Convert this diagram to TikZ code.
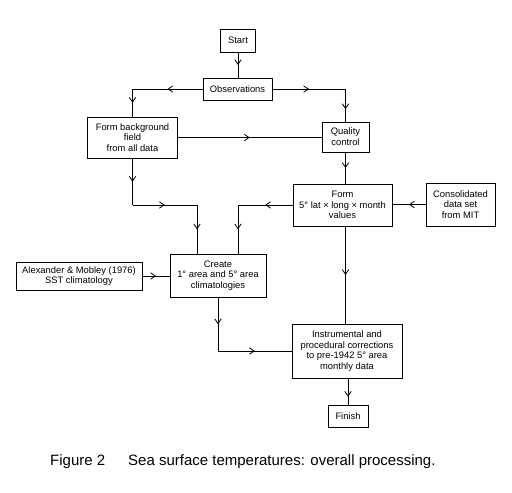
\documentclass[tikz,border=0pt]{standalone}
\usepackage{fontspec}
\setmainfont{Liberation Sans}
\usetikzlibrary{arrows.meta,calc,decorations.markings}
\tikzset{
  box/.style={draw,line width=0.8pt,inner sep=0pt,align=center,
    font=\fontsize{8}{9.2}\selectfont},
  flow/.style={line width=0.6pt,postaction={decorate},
    decoration={markings,mark=at position #1 with {\arrow{Straight Barb[length=4pt,width=5.5pt,line width=0.7pt]}}}},
  flow/.default=0.5
}

\begin{document}
\begin{tikzpicture}[x=0.03cm,y=-0.03cm]
\useasboundingbox (0,0) rectangle (512,492);

\node[box,minimum width=1.05cm,minimum height=0.69cm] (start) at (238,40.5) {Start};
\node[box,minimum width=2.07cm,minimum height=0.66cm] (obs) at (237.5,89) {Observations};
\node[box,minimum width=2.7cm,minimum height=1.23cm] (fbg) at (132.5,137.5) {Form background\\field\\from all data};
\node[box,minimum width=1.41cm,minimum height=0.9cm] (qc) at (345.5,137) {Quality\\control};
\node[box,minimum width=2.97cm,minimum height=1.26cm] (form) at (342.5,205) {Form\\5° lat × long × month\\values};
\node[box,minimum width=2.07cm,minimum height=1.29cm] (mit) at (460.5,204.5) {Consolidated\\data set\\from MIT};
\node[box,minimum width=3.78cm,minimum height=0.84cm] (alex) at (79,276) {Alexander \& Mobley (1976)\\SST climatology};
\node[box,minimum width=2.88cm,minimum height=1.29cm] (clim) at (218,275.5) {Create\\1° area and 5° area\\climatologies};
\node[box,minimum width=3.3cm,minimum height=1.62cm] (corr) at (347,351) {Instrumental and\\procedural corrections\\to pre-1942 5° area\\monthly data};
\node[box,minimum width=1.2cm,minimum height=0.66cm] (finish) at (348,416) {Finish};

\coordinate (inA) at ($(clim.north)+(-21,0)$);
\coordinate (inB) at ($(clim.north)+(20,0)$);
\coordinate (c1) at (obs.west -| fbg.north);
\coordinate (c2) at (obs.east -| qc.north);
\coordinate (c3) at (fbg.south |- form.west);
\coordinate (c4) at (c3 -| inA);
\coordinate (c5) at (form.west -| inB);
\coordinate (c6) at (clim.south |- corr.west);

\draw[flow] (start.south) -- (start.south |- obs.north);
\draw[flow] (obs.west) -- (c1);
\draw[flow] (c1) -- (fbg.north);
\draw[flow] (obs.east) -- (c2);
\draw[flow=0.62] (c2) -- (qc.north);
\draw[flow] (fbg.east) -- (fbg.east -| qc.west);
\draw[flow] (fbg.south) -- (c3);
\draw[flow] (c3) -- (c4);
\draw[flow] (c4) -- (inA);
\draw[flow] (form.west) -- (c5);
\draw[flow] (c5) -- (inB);
\draw[flow] (mit.west) -- (mit.west -| form.east);
\draw[flow] (qc.south) -- (qc.south |- form.north);
\draw[flow] (qc.south |- form.south) -- (qc.south |- corr.north);
\draw[flow] (alex.east) -- (alex.east -| clim.west);
\draw[flow] (clim.south) -- (c6);
\draw[flow] (c6) -- (corr.west);
\draw[flow=0.7] (corr.south -| finish.north) -- (finish.north);

\node[anchor=base west,inner sep=0pt,font=\fontsize{12.8}{15}\selectfont] (figno) at (50,465.5) {Figure 2};
\node[anchor=base west,inner sep=0pt,font=\fontsize{12.8}{15}\selectfont] (caption) at (128,465.5) {Sea surface temperatures: overall processing.};
\end{tikzpicture}
\end{document}
